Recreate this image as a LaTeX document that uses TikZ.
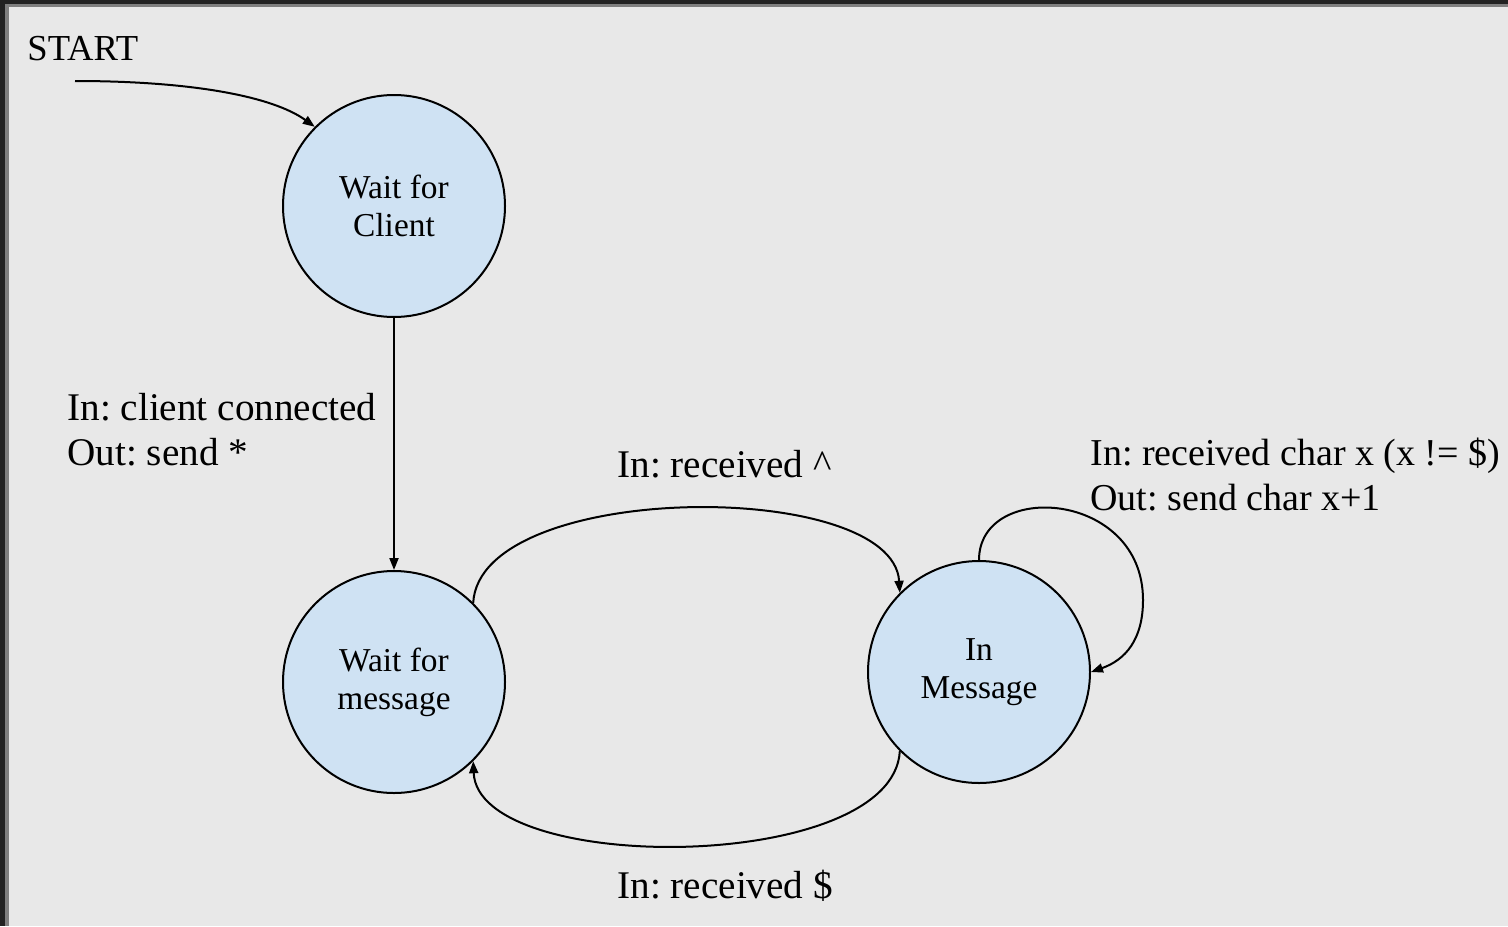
\documentclass[tikz,border=0pt]{standalone}
\usepackage{fontspec}
\setmainfont{Liberation Serif}
\usetikzlibrary{arrows.meta}
\definecolor{bgc}{HTML}{E8E8E8}
\definecolor{nodefill}{HTML}{CFE2F3}
\definecolor{frameA}{HTML}{222222}
\definecolor{frameB}{HTML}{7F7F7F}
\frenchspacing
\begin{document}
\frenchspacing
\begin{tikzpicture}[x=0.5pt,y=-0.5pt,
  state/.style={circle,draw,line width=1pt,fill=nodefill,minimum size=111pt,inner sep=0pt,align=center,font=\fontsize{16.7}{19}\selectfont},
  lbl/.style={anchor=base west,inner sep=0pt,align=left,font=\fontsize{19.6}{22.3}\selectfont},
  conn/.style={line width=1pt,-{Triangle[length=6pt,width=4.5pt]}}]
\fill[bgc] (0,0) rectangle (1508,926);
\useasboundingbox (0,0) rectangle (1508,926);
\fill[frameA] (0,0) rectangle (1508,4);
\fill[frameA] (0,0) rectangle (5,926);
\fill[frameB] (5,4) rectangle (1508,7);
\fill[frameB] (5,4) rectangle (9,926);

\node[state] (wc) at (394,206) {Wait for\\Client};
\node[state] (wm) at (394,682) {Wait for\\message};
\node[state] (im) at (979,672) {In\\Message};
\coordinate (start) at (75,81);
\node[lbl,font=\fontsize{18.3}{20}\selectfont] (startlbl) at (27,60) {START};

\draw[conn] (start) .. controls (190,81) and (272,96) .. (wc.135);
\draw[conn] (wc) -- (wm);
\draw[conn] (wm.45) .. controls (480,480) and (893,478) .. (im.135);
\draw[conn] (im.225) .. controls (893,874) and (478,876) .. (wm.315);
\draw[conn] (im.north) .. controls (979,480) and (1143,490) .. (1143,600) .. controls (1143,640) and (1125,660) .. (im.east);

\node[lbl] (l1) at (67,465) {In: client connected\\Out: send *};
\node[lbl] (l2) at (617,477) {In: received \textasciicircum};
\node[lbl] (l3) at (617,898) {In: received \$};
\node[lbl,font=\fontsize{19}{22.5}\selectfont] (l4) at (1090,510) {In: received char x (x != \$)\\Out: send char x+1};
\end{tikzpicture}
\end{document}
